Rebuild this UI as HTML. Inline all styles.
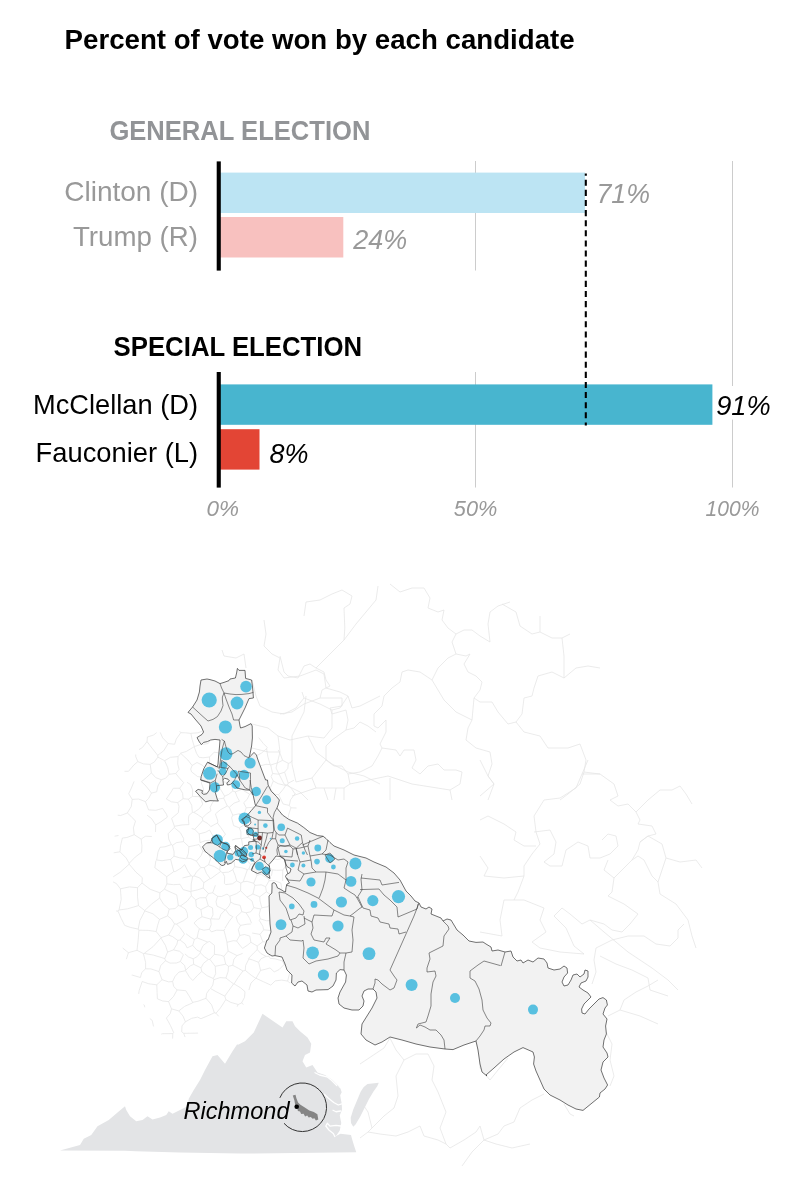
<!DOCTYPE html>
<html><head><meta charset="utf-8">
<style>
html,body{margin:0;padding:0;background:#fff;}
svg{display:block;}
text{font-family:"Liberation Sans",sans-serif;}
.b{font-weight:bold;}
.i{font-style:italic;}
</style></head>
<body>
<svg width="800" height="1200" viewBox="0 0 800 1200">
<rect width="800" height="1200" fill="#fff"/>
<!-- CHART -->
<g id="chart">
<text class="b" x="64.6" y="48.8" font-size="27.5" fill="#000" textLength="510" lengthAdjust="spacingAndGlyphs">Percent of vote won by each candidate</text>
<text class="b" x="109.4" y="139.5" font-size="27.5" fill="#929497" textLength="261" lengthAdjust="spacingAndGlyphs">GENERAL ELECTION</text>
<text class="b" x="113.6" y="355.5" font-size="27.5" fill="#000" textLength="248.5" lengthAdjust="spacingAndGlyphs">SPECIAL ELECTION</text>
<!-- gridlines -->
<rect x="475" y="161" width="1" height="109.5" fill="#ccc"/>
<rect x="475" y="372" width="1" height="115.5" fill="#ccc"/>
<rect x="732" y="161" width="1" height="326.5" fill="#ccc"/>
<rect x="714" y="386" width="57" height="33.6" fill="#fff"/>
<!-- bars -->
<rect x="219" y="172.6" width="366" height="40.4" fill="#bce4f3"/>
<rect x="219" y="217" width="124.3" height="40.5" fill="#f8c1bf"/>
<rect x="219" y="384.4" width="493.4" height="40.4" fill="#48b5cf"/>
<rect x="219" y="429.2" width="40.5" height="40.4" fill="#e34535"/>
<!-- axis -->
<rect x="216.7" y="161.4" width="4.1" height="109.2" fill="#000"/>
<rect x="216.7" y="372" width="4.1" height="115.6" fill="#000"/>
<!-- dashed -->
<line x1="585.8" y1="173.4" x2="585.8" y2="425.4" stroke="#000" stroke-width="2.1" stroke-dasharray="6.07,4.04" stroke-dashoffset="3.77"/>
<!-- labels -->
<text x="64.2" y="200.7" font-size="27.5" fill="#999" textLength="134" lengthAdjust="spacingAndGlyphs">Clinton (D)</text>
<text x="73" y="246" font-size="27.5" fill="#999" textLength="125" lengthAdjust="spacingAndGlyphs">Trump (R)</text>
<text x="33" y="413.8" font-size="27.5" fill="#000" textLength="165" lengthAdjust="spacingAndGlyphs">McClellan (D)</text>
<text x="35.6" y="461.5" font-size="27.5" fill="#000" textLength="162.5" lengthAdjust="spacingAndGlyphs">Fauconier (L)</text>
<text class="i" x="596.4" y="203" font-size="28.5" fill="#999" textLength="53.6" lengthAdjust="spacingAndGlyphs">71%</text>
<text class="i" x="353.2" y="249" font-size="28.5" fill="#999" textLength="54" lengthAdjust="spacingAndGlyphs">24%</text>
<text class="i" x="716.2" y="415.3" font-size="28.5" fill="#000" textLength="54.5" lengthAdjust="spacingAndGlyphs">91%</text>
<text class="i" x="269.6" y="462.8" font-size="28.5" fill="#000" textLength="39" lengthAdjust="spacingAndGlyphs">8%</text>
<text class="i" x="206.6" y="516.2" font-size="22" fill="#999" textLength="32.5" lengthAdjust="spacingAndGlyphs">0%</text>
<text class="i" x="453.8" y="516.2" font-size="22" fill="#999" textLength="43.5" lengthAdjust="spacingAndGlyphs">50%</text>
<text class="i" x="705.5" y="516.2" font-size="22" fill="#999" textLength="54" lengthAdjust="spacingAndGlyphs">100%</text>
</g>
<!-- MAP -->
<g id="map">
<path d="M304,616 L306,602 L320,600 L332,594 L342,590 L352,596 L350,604 L344,608 L344.8,628 L344,640 M378,586 L376,600 L366,612 L356,624 L344,640 L332,652 L316,668 M390,584 L400,592 L412,588 L424,588 L430,598 L428,608 L438,612 L444,610 L442,620 L448,628 L456,634 L452,642 L456,654 L466,656 L470,654 L464,664 L468,672 L476,676 L482,682 L480,690 L474,698 M456,634 L464,630 L472,630 L480,636 L490,642 L488,624 L490,612 L498,606 L510,602 M502,604 L516,612 L520,626 L532,634 L540,632 L552,638 L562,638 L570,634 M540,616 L540,632 M562,638 L564,656 L564,678 L576,668 L588,666 L600,668 M564,678 L552,672 L538,676 L534,688 L532,696 L524,698 L522,714 L516,722 L508,724 L498,712 L492,702 L480,702 L474,698 M474,698 L472,720 L456,712 L444,700 L432,680 L420,672 L408,670 L402,672 L400,682 L392,688 L384,696 L382,706 L374,714 L374,726 L378,728 L386,720 L386,732 L380,744 L382,748 L396,750 L400,756 L404,750 L414,750 L416,760 L412,768 L420,774 L428,766 L438,764 L444,770 L456,770 L462,772 L460,784 L450,790 L452,800 M432,680 L438,668 L448,658 L456,654 M472,720 L468,728 L466,740 L476,748 L490,752 L492,764 L488,776 L494,784 L488,800 M516,722 L524,732 L540,736 L548,748 L568,748 L580,744 L586,760 L584,772 L580,784 L568,794 L560,800 M584,772 L600,774 M280,656 L284,672 L288,676 L298,678 L304,666 L310,664 L316,668 L324,672 L326,680 L330,686 L322,690 L320,698 L332,698 L342,698 L342,706 L330,708 L332,714 L346,710 L348,720 L346,730 L354,728 L360,722 L368,726 L376,732 M346,730 L332,740 L326,746 L326,760 L334,766 L342,766 L348,774 L360,772 L372,766 L378,756 L382,748 M306,696 L304,712 L298,724 L292,736 L292,764 L296,782 L312,778 L326,760 M348,774 L350,784 L388,776 L412,784 L450,790 M280,714 L292,712 L304,704 L320,698 M390,778 L390,800 M312,778 L316,788 L344,788 L350,784 M292,796 L304,792 L316,788 M324,788 L328,800 M336,788 L334,800 M344,788 L344,800" fill="none" stroke="#e4e4e4" stroke-width="0.75" stroke-linejoin="round"/>
<path d="M588,760 L582,774 L600,774 L614,784 L618,796 L610,800 L618,806 L628,804 L636,812 L640,820 L638,824 L652,826 L656,834 L648,836 L640,842 L638,850 L632,860 M582,774 L576,788 L560,798 L544,800 L534,816 L536,832 L540,844 L532,854 L524,866 L524,876 L518,892 L514,900 M534,832 L550,830 L556,842 L554,854 L544,862 L550,866 L562,866 L566,850 L578,842 L588,846 L590,858 L600,858 L610,854 L618,846 L616,836 L608,834 L602,840 M636,812 L648,800 L660,790 L672,790 L680,786 L686,794 L692,804 M640,842 L648,836 L662,844 L666,858 L662,870 L658,882 L652,876 L644,860 L638,856 L632,860 L624,868 L614,878 L604,870 L608,860 M666,858 L680,862 L696,860 L702,868 M614,878 L612,892 L608,896 L624,904 L638,914 L630,924 L622,932 L612,930 L604,924 L590,920 L582,924 L570,914 L562,908 L554,916 L566,928 L574,946 L584,954 M658,882 L660,894 L676,904 L688,920 L692,936 L696,948 M590,920 L604,932 L616,942 L628,952 L640,960 L652,968 L668,980 L678,990 M596,948 L612,940 L628,936 L644,936 L656,944 L670,946 L678,938 L678,930 L684,924 M480,820 L488,816 L504,824 L516,832 L514,840 L524,846 L536,846 M480,856 L488,868 L484,876 L504,878 L524,876 M504,900 L524,900 L544,908 L540,920 L546,932 L532,942 L540,948 L560,952 L584,954 M504,900 L500,920 L502,936 L480,932 M480,760 L488,776 L494,784 L480,796 M596,948 L594,960 L596,972 L592,984 M600,956 L616,964 L632,970 L648,978 L650,990 L668,996 M390,1038 L396,1050 L404,1060 L416,1054 L428,1054 L434,1066 L432,1080 L438,1092 L446,1112 L440,1128 L446,1144 L450,1148 L464,1140 L476,1132 L480,1126 L484,1140 L498,1134 L504,1126 L514,1122 L520,1108 L532,1100 L544,1094 M404,1060 L396,1076 L398,1096 L394,1108 L384,1116 L372,1128 L368,1132 L380,1134 L396,1136 L408,1132 L420,1126 L424,1136 L438,1140 L446,1144 M484,1140 L472,1152 L462,1166 M484,1140 L496,1144 L512,1148 L530,1144 M476,1042 L480,1056 L480,1068 L490,1080 L498,1070 L508,1058 M608,1016 L620,1010 L624,1000 L636,992 L648,986 L658,980 M620,1010 L640,1016 L658,1024 M606,1032 L612,1044 L610,1060 L614,1076 L610,1086 M564,1104 L570,1114 L574,1116 M360,1064 L372,1056 L384,1048 L390,1038 M360,1100 L368,1112 L372,1128 M360,1138 L368,1132 M222,650 L224,656 L236,658 L244,654 L246,668 M264,620 L266,634 L264,646 L272,654 L280,658 L278,670 L284,678 L300,676 L316,670 L324,674 L326,688 L340,692 L348,696 L352,708 L360,706 L376,698 L380,696 M252,680 L256,696 L260,706 L272,712 L284,714 L296,708 L304,698 L302,692 M304,698 L320,704 L332,710 L340,708 L348,696 M252,724 L268,728 L278,736 L290,740 L308,736 L324,738 L332,728 L332,710 M308,736 L316,752 L332,764 L348,772 L364,776 L380,784 M278,736 L280,752 L276,768 L284,784 L300,792 L308,800 M252,748 L268,752 L280,752" fill="none" stroke="#e4e4e4" stroke-width="0.75" stroke-linejoin="round"/>
<path d="M124.5,771.3 L128.5,771.3 M128.7,793.7 L131.4,788.0 L134.1,781.4 M150.2,764.4 L143.5,763.9 L137.8,761.6 M150.2,764.4 L154.3,762.0 L157.9,757.1 M157.9,757.1 L157.7,755.3 M157.7,755.3 L152.4,748.6 L147.0,741.6 M147.0,741.6 L142.4,747.5 L139.0,749.6 M135.7,754.5 L135.7,756.5 L137.8,761.6 M128.5,771.3 L133.7,765.2 L137.8,761.6 M141.5,781.7 L146.9,777.1 L151.4,772.9 M151.4,772.9 L150.2,764.4 M116.1,911.0 L118.0,911.1 M120.4,888.8 L116.5,883.7 L113.1,881.9 M120.4,888.8 L121.2,899.4 L119.0,910.0 M118.0,911.1 L119.0,910.0 M203.3,792.9 L207.0,793.0 M203.3,792.9 L202.9,793.4 M200.0,796.7 L199.9,796.7 M213.9,801.1 L212.4,802.8 L210.1,807.6 M199.9,796.7 L202.8,804.1 M210.1,807.6 L211.0,810.7 M211.0,810.7 L206.4,814.1 L202.4,817.9 M202.4,817.9 L196.8,814.0 L193.8,812.4 M202.8,804.1 L199.2,808.8 L193.8,812.4 M199.9,796.7 L192.5,796.4 M193.8,812.4 L192.4,812.4 M192.4,812.4 L191.7,805.2 L188.4,799.2 M192.5,796.4 L188.4,799.2 M217.5,799.1 L223.7,798.2 M215.4,813.9 L220.3,809.8 L227.3,806.0 M223.7,798.2 L227.3,806.0 M128.7,793.7 L132.2,799.4 M132.2,799.4 L131.3,806.4 L127.3,813.0 M127.3,813.0 L120.7,815.5 L117.7,815.2 M164.7,760.7 L170.4,757.3 L178.1,756.6 M164.7,760.7 L167.8,767.8 L169.1,774.3 M178.1,756.6 L177.7,763.9 L179.1,769.4 M179.1,769.4 L175.8,773.5 M169.1,774.3 L175.8,773.5 M168.1,743.5 L163.8,750.7 L157.7,755.3 M168.1,743.5 L174.6,744.3 M157.9,757.1 L164.7,760.7 M180.7,753.4 L180.7,753.1 M180.7,753.4 L178.1,756.6 M151.4,772.9 L155.8,777.7 L161.4,779.7 M165.6,778.3 L161.4,779.7 M165.6,778.3 L169.1,774.3 M190.7,769.1 L192.1,765.5 M192.1,765.5 L187.9,760.0 L180.7,753.4 M222.6,872.6 L228.6,872.1 L232.8,869.7 M222.6,872.6 L224.7,876.6 L224.4,883.5 M232.8,869.7 L235.1,875.3 L236.7,880.9 M236.7,880.9 L232.4,883.8 L225.8,884.6 M224.4,883.5 L225.8,884.6 M118.0,911.1 L121.1,918.3 L124.7,925.4 M126.4,959.1 L128.4,952.7 M122.7,948.0 L128.4,952.7 M250.6,864.4 L247.1,860.4 M250.6,864.4 L248.9,868.9 M248.9,868.9 L247.4,869.6 M234.1,861.1 L234.7,866.7 M247.4,869.6 L242.3,867.9 L234.7,866.7 M233.5,853.3 L230.5,848.7 M230.5,848.7 L230.3,848.8 M210.7,858.4 L208.9,854.8 M182.5,878.0 L191.1,875.8 M191.1,875.8 L187.7,870.8 L184.6,864.6 M184.6,864.6 L181.4,867.9 L175.2,871.6 M155.5,832.0 L155.7,824.9 M171.6,818.4 L174.4,826.3 M168.2,833.7 L174.2,827.6 M167.4,817.1 L160.8,821.9 L155.7,824.9 M174.4,826.3 L174.2,827.6 M178.3,812.8 L171.6,818.4 M188.9,815.4 L188.4,818.9 L188.9,824.6 M174.4,826.3 L182.2,824.9 L188.9,824.6 M120.0,851.8 L120.5,845.9 L122.4,838.0 M120.0,851.8 L126.1,857.9 L129.2,863.3 M129.2,863.3 L135.2,857.1 L141.7,852.2 M141.7,852.2 L141.9,845.7 L141.2,839.1 M122.4,838.0 L126.9,837.5 L134.2,834.7 M134.2,834.7 L141.2,839.1 M113.7,852.8 L120.0,851.8 M113.2,876.8 L120.1,872.3 L129.2,864.2 M129.2,864.2 L129.2,863.3 M142.3,877.7 L136.0,872.2 L129.2,864.2 M154.8,867.7 L155.9,860.7 M147.1,815.2 L151.5,818.5 L155.7,824.9 M135.5,821.1 L133.4,827.8 L134.2,834.7 M151.8,836.5 L145.5,836.2 L141.2,839.1 M191.6,771.9 L197.5,776.5 L200.8,777.1 M202.4,780.9 L201.3,782.8 M190.7,784.7 L187.0,782.3 M190.7,769.1 L191.6,771.9 M183.7,782.7 L178.7,777.2 L175.8,773.5 M203.3,792.9 L203.5,788.9 L201.3,782.8 M192.5,796.4 L192.6,789.9 L190.7,784.7 M227.0,782.4 L223.4,781.8 M231.5,783.9 L232.8,791.0 M224.6,796.1 L228.5,794.5 L232.8,791.0 M224.6,796.1 L220.1,788.6 L218.7,785.8 M223.7,798.2 L224.6,796.1 M180.8,732.7 L185.4,732.8 L190.9,733.4 M180.8,732.7 L179.6,731.2 M190.9,733.4 L191.0,733.3 M191.0,733.3 L198.0,732.8 L202.9,731.0 M249.6,794.1 L245.4,791.7 L242.1,789.5 M249.6,794.1 L247.3,799.2 L243.7,802.7 M239.5,801.2 L237.0,796.7 L235.3,791.9 M235.3,791.9 L241.7,789.4 M250.5,793.9 L249.6,794.1 M250.5,793.9 L251.3,792.8 M227.3,806.0 L229.3,807.3 M232.8,791.0 L235.3,791.9 M229.3,807.3 L234.1,803.1 L239.5,801.2 M232.8,815.2 L239.0,813.8 L244.2,813.9 M232.8,815.2 L229.3,807.3 M243.7,802.7 L246.2,807.8 M244.2,813.9 L246.2,807.8 M295.0,793.8 L291.6,788.8 L287.5,784.7 M295.0,793.8 L295.4,793.6 M288.2,783.2 L294.0,780.2 M288.2,783.2 L287.5,784.7 M296.6,808.1 L296.2,808.0 L290.9,807.8 M295.0,793.8 L290.6,799.7 L289.3,805.4 M290.9,807.8 L289.3,805.4 M290.5,762.7 L288.3,763.3 M288.2,783.2 L286.2,777.1 L284.6,772.2 M284.6,772.2 L287.8,768.4 L288.3,763.3 M290.5,762.7 L292.0,760.5 M145.4,801.6 L148.6,809.9 M145.4,801.6 L148.6,798.5 L151.5,793.1 M148.6,809.9 L155.8,810.3 L162.6,808.4 M151.5,793.1 L156.7,791.8 M132.2,799.4 L138.5,799.0 L145.4,801.6 M135.5,821.1 L130.9,816.2 L127.3,813.0 M141.5,781.7 L146.0,786.1 L151.5,793.1 M167.4,817.1 L166.5,814.3 L162.6,808.4 M161.4,779.7 L157.9,786.0 L156.7,791.8 M118.5,835.5 L114.6,836.2 M166.3,799.0 L170.9,792.3 L173.3,788.3 M166.3,799.0 L171.4,801.8 L177.7,802.6 M177.7,802.6 L183.1,798.7 M183.1,798.7 L182.6,793.2 L179.7,788.2 M179.7,788.2 L173.3,788.3 M178.3,812.8 L179.0,806.3 L177.7,802.6 M188.9,815.4 L192.4,812.4 M188.4,799.2 L183.1,798.7 M183.7,782.7 L179.7,788.2 M156.7,732.6 L153.6,735.0 L147.4,737.0 M147.4,737.0 L147.4,736.9 M168.1,743.5 L162.7,737.9 L160.2,732.4 M147.0,741.6 L147.4,737.0 M180.8,732.7 L176.3,739.0 L174.6,744.3 M268.1,906.7 L269.0,905.2 M268.1,906.7 L261.8,907.8 M270.1,894.4 L266.4,891.8 M266.4,891.8 L259.7,896.8 M261.8,907.8 L260.0,900.9 L259.7,896.8 M240.6,890.8 L247.0,897.1 M240.6,890.8 L240.8,883.1 M247.0,897.1 L252.9,894.0 M252.9,894.0 L254.9,885.4 M253.7,883.3 L247.1,881.3 L243.2,881.8 M253.7,883.3 L254.9,885.4 M240.8,883.1 L243.2,881.8 M266.4,891.8 L265.6,886.7 M265.6,886.7 L261.3,884.8 L254.9,885.4 M259.7,896.8 L252.9,894.0 M256.9,875.3 L255.4,872.8 M251.4,869.9 L248.9,868.9 M256.9,875.3 L253.7,883.3 M247.4,869.6 L245.2,876.0 L243.2,881.8 M260.9,874.3 L256.9,875.3 M260.9,874.3 L268.2,878.6 M268.2,878.6 L269.1,880.8 M269.1,880.8 L265.6,886.7 M234.7,866.7 L232.8,869.7 M236.7,880.9 L240.8,883.1 M203.8,882.7 L203.2,888.0 M203.8,882.7 L199.9,878.0 L194.1,875.9 M203.2,888.0 L197.5,889.9 L191.1,891.3 M191.1,891.3 L191.2,884.1 L192.7,876.4 M192.7,876.4 L194.1,875.9 M225.6,834.2 L225.4,834.2 M225.4,834.2 L221.1,827.9 L217.4,823.0 M233.6,825.6 L231.6,817.8 M217.9,821.2 L217.4,823.0 M219.6,839.9 L221.5,839.2 L225.4,834.2 M213.2,837.3 L212.4,834.9 L209.5,830.0 M210.8,826.6 L217.4,823.0 M215.4,813.9 L217.9,821.2 M232.8,815.2 L231.6,817.8 M202.4,817.9 L202.7,820.6 M202.7,820.6 L207.9,823.6 L210.8,826.6 M204.2,867.6 L208.6,864.7 M204.2,867.6 L206.4,873.4 L210.2,878.5 M208.6,864.7 L214.2,866.5 L219.7,869.9 M210.9,878.6 L210.2,878.5 M210.9,878.6 L217.2,874.0 L220.6,871.6 M220.6,871.6 L219.7,869.9 M200.8,867.6 L204.2,867.6 M200.8,867.6 L196.4,872.1 L194.1,875.9 M203.8,882.7 L210.2,878.5 M220.5,864.8 L220.2,866.1 L219.7,869.9 M210.7,858.4 L208.6,864.7 M222.6,872.6 L220.6,871.6 M218.6,752.8 L214.2,752.2 M210.4,740.4 L208.1,743.6 M190.9,733.4 L192.1,739.4 L194.3,746.6 M208.1,743.6 L202.0,744.4 M201.0,744.5 L200.4,744.6 L194.3,746.6 M180.7,753.1 L186.2,751.5 L194.2,746.7 M194.2,746.7 L194.3,746.6 M250.5,793.9 L252.6,794.7 M246.2,807.8 L251.8,807.4 L254.1,806.9 M244.2,813.9 L245.8,816.3 M250.1,754.6 L251.3,754.8 M282.6,760.3 L277.6,762.8 L270.7,765.0 M282.6,760.3 L280.1,753.6 L278.2,749.9 M270.2,764.6 L270.7,765.0 M270.2,764.6 L267.7,756.0 L266.6,748.7 M267.2,747.4 L266.6,748.7 M284.6,772.2 L278.6,774.2 L272.6,773.5 M288.3,763.3 L282.6,760.3 M272.6,773.5 L270.7,765.0 M260.5,765.8 L266.0,764.3 L270.2,764.6 M271.1,776.6 L272.6,773.5 M256.9,755.5 L261.2,753.3 L266.6,748.7 M258.7,737.6 L263.3,743.5 L267.2,747.4 M166.7,876.7 L173.8,871.6 M166.7,876.7 L166.9,883.9 M173.8,871.6 L175.2,871.6 M166.9,883.9 L173.4,884.7 L180.0,884.3 M120.4,888.8 L129.4,886.9 L137.5,887.7 M119.0,910.0 L127.6,908.8 L138.5,905.6 M138.5,905.6 L137.5,896.8 L137.5,887.7 M142.3,877.7 L142.0,883.0 M137.5,887.7 L142.0,883.0 M124.7,925.4 L130.3,927.4 L138.2,929.1 M128.4,952.7 L137.0,950.3 M137.0,950.3 L138.2,939.8 L138.9,930.2 M138.2,929.1 L138.9,930.2 M200.8,867.6 L196.4,861.1 M205.6,852.1 L202.9,851.1 M196.4,861.1 L201.0,855.8 L202.9,851.1 M191.1,875.8 L192.7,876.4 M185.7,858.8 L186.7,858.2 M196.4,861.1 L190.9,858.6 L186.7,858.2 M171.3,844.6 L172.5,845.3 M171.3,844.6 L165.0,846.8 L160.0,847.3 M172.5,845.3 L174.1,851.9 L174.0,856.2 M160.0,847.3 L158.0,852.1 L156.7,860.0 M156.7,860.0 L162.1,860.7 L170.6,859.4 M170.6,859.4 L174.0,856.2 M168.2,833.7 L168.7,839.0 L171.3,844.6 M155.9,860.7 L156.7,860.0 M166.7,876.7 L162.3,873.3 L154.8,867.7 M173.8,871.6 L172.3,866.0 L170.6,859.4 M185.7,858.8 L179.6,857.8 L174.0,856.2 M209.5,757.0 L202.9,757.8 L198.9,757.2 M209.5,757.0 L209.7,762.9 M204.3,767.3 L202.4,765.2 L197.0,762.5 M214.2,752.2 L209.5,757.0 M194.2,746.7 L196.5,753.3 L198.9,757.2 M192.1,765.5 L197.0,762.5 M231.9,840.1 L235.2,839.0 L240.9,838.4 M233.6,825.6 L239.3,827.9 M240.9,838.4 L240.9,831.9 L239.3,827.9 M239.3,827.9 L244.0,825.0 L244.3,824.9 M240.9,838.4 L241.5,838.7 M242.9,847.6 L242.6,845.6 L241.5,838.7 M283.1,804.0 L289.3,805.4 M290.9,807.8 L288.7,814.5 L287.9,818.4 M278.7,794.7 L283.4,789.0 L285.7,785.5 M278.7,794.7 L274.8,794.2 M274.8,794.2 L270.2,788.4 M285.7,785.5 L278.2,783.7 L273.3,781.0 M273.3,781.0 L270.2,788.4 M287.5,784.7 L285.7,785.5 M283.1,804.0 L281.5,800.7 L278.7,794.7 M274.7,794.3 L274.8,794.2 M270.2,788.4 L270.2,788.4 M271.1,776.6 L273.3,781.0 M281.9,889.8 L282.0,889.3 L280.8,883.0 M282.8,870.1 L282.6,876.6 L282.7,881.0 M282.8,870.1 L286.2,865.3 M269.1,880.8 L274.3,880.7 L280.8,883.0 M272.5,869.9 L271.5,875.4 L269.9,876.9 M268.8,878.0 L268.2,878.6 M272.5,869.9 L276.3,870.3 L282.8,870.1 M289.4,972.8 L289.4,974.2 L287.6,981.1 M290.2,983.2 L287.6,981.1 M282.8,959.5 L282.4,960.9 M282.4,960.9 L275.0,958.8 L270.3,958.4 M269.6,954.9 L268.9,956.3 M270.3,958.4 L268.9,956.3 M285.0,965.0 L284.1,964.5 M284.1,964.5 L282.4,960.9 M166.9,883.9 L164.4,889.2 M142.0,883.0 L150.2,889.3 L159.9,892.8 M164.4,889.2 L159.9,892.8 M200.0,842.6 L199.2,833.9 M199.0,844.5 L195.2,845.4 L188.9,846.7 M199.2,833.9 L194.7,829.3 M188.9,846.7 L183.5,841.6 M194.7,829.3 L191.7,828.6 M183.7,838.6 L183.5,841.6 M211.3,840.2 L205.6,840.6 L200.0,842.6 M209.5,830.0 L205.8,832.2 L199.2,833.9 M202.9,851.1 L199.0,844.5 M186.7,858.2 L188.4,853.3 L188.9,846.7 M202.7,820.6 L198.0,825.9 L194.7,829.3 M172.5,845.3 L176.6,842.6 L183.5,841.6 M174.2,827.6 L180.4,832.7 L183.7,838.6 M248.7,834.1 L248.6,837.2 M253.7,840.4 L248.6,837.2 M241.5,838.7 L248.6,837.2 M250.6,864.4 L254.4,862.9 M282.9,858.3 L277.7,859.5 L274.1,859.0 M260.9,874.3 L261.0,872.5 M272.5,869.9 L269.9,867.9 M137.0,950.3 L143.4,953.6 M143.4,953.6 L145.6,962.4 L145.6,968.8 M145.6,968.8 L141.8,972.4 L140.4,977.5 M140.4,977.5 L132.6,975.2 L131.7,975.1 M284.1,964.5 L279.1,969.6 L274.2,971.9 M287.6,981.1 L281.6,980.1 L275.2,980.9 M274.2,971.9 L270.0,967.9 M268.9,956.3 L266.1,956.4 M270.0,967.9 L265.4,969.3 L260.6,970.4 M260.6,970.4 L258.6,962.3 M266.1,956.4 L261.0,958.7 L258.6,962.3 M262.8,941.7 L266.0,942.0 M262.8,941.7 L257.2,946.0 M257.2,946.0 L257.3,949.6 M266.1,956.4 L260.8,953.5 L257.3,949.6 M215.4,885.3 L212.7,892.8 M203.2,888.0 L208.4,893.5 M212.7,892.8 L208.4,893.5 M262.8,941.7 L260.0,934.4 M257.2,946.0 L250.9,942.3 M260.0,934.4 L252.1,933.0 M250.9,942.3 L249.8,936.1 M247.0,897.2 L252.0,901.0 L253.8,907.6 M240.2,905.4 L241.8,911.7 M241.8,911.7 L246.1,912.8 M246.1,912.8 L250.7,911.8 L253.8,907.6 M250.9,924.0 L247.0,924.2 L240.5,925.4 M240.5,925.4 L237.6,922.0 L236.1,917.0 M241.8,911.7 L236.1,917.0 M246.1,912.8 L249.7,918.5 L251.5,923.2 M261.8,907.8 L260.6,909.0 M247.0,897.1 L247.0,897.2 M260.6,909.0 L253.8,907.6 M153.5,1026.4 L152.2,1020.4 M149.8,1018.5 L152.2,1020.4 M176.7,894.8 L177.6,900.0 L178.3,905.5 M183.1,889.6 L190.8,891.7 M180.4,906.0 L187.0,901.3 L191.4,895.8 M180.4,906.0 L178.3,905.5 M190.8,891.7 L191.4,895.8 M180.0,884.3 L183.1,889.6 M164.4,889.2 L170.0,891.9 L176.7,894.8 M191.1,891.3 L190.8,891.7 M195.7,899.9 L191.4,895.8 M195.7,899.9 L196.4,906.8 M187.3,913.3 L185.4,909.0 L180.4,906.0 M195.7,899.9 L199.8,897.8 L205.9,897.7 M208.4,893.5 L205.9,897.7 M159.7,898.0 L163.5,904.2 L169.2,909.1 M159.7,898.0 L151.8,903.9 L144.7,910.5 M144.7,910.5 L144.8,910.9 M144.8,910.9 L152.9,913.8 L159.5,919.4 M159.5,919.4 L167.5,915.9 M169.2,909.1 L167.5,915.9 M159.9,892.8 L159.7,898.0 M178.3,905.5 L175.1,908.6 L169.2,909.1 M138.5,905.6 L144.7,910.5 M138.2,929.1 L139.9,920.5 L144.8,910.9 M138.9,930.2 L148.2,930.4 L156.2,931.5 M156.2,931.5 L157.7,925.2 L159.5,919.4 M161.3,1034.1 L162.5,1033.7 L172.8,1033.6 M172.6,1038.6 L172.8,1033.6 M166.4,1018.1 L170.5,1025.6 L173.7,1032.7 M173.7,1032.7 L172.8,1033.6 M243.5,1004.4 L241.5,1003.0 M237.1,1006.7 L238.2,1004.5 M238.2,1004.5 L241.5,1003.0 M270.8,985.1 L263.6,981.8 L256.0,978.3 M248.9,990.1 L250.9,983.2 L255.8,978.3 M256.0,978.3 L255.8,978.3 M275.2,980.9 L270.8,985.1 M260.6,970.4 L257.5,975.7 L256.0,978.3 M241.5,1003.0 L244.5,997.4 L245.0,991.7 M233.6,983.9 L234.1,983.9 M233.6,983.9 L228.3,991.2 L224.8,996.1 M238.2,1004.5 L230.8,1002.4 L225.8,999.6 M245.0,991.7 L240.7,987.9 L234.1,983.9 M224.8,996.1 L225.8,999.6 M218.7,1016.3 L216.0,1013.2 M225.8,999.6 L220.5,1007.9 L216.0,1013.2 M263.7,929.8 L262.8,926.1 L259.2,920.3 M263.7,929.8 L270.5,930.5 M269.6,920.7 L266.3,920.7 L260.3,918.8 M260.3,918.8 L259.2,920.3 M260.0,934.4 L263.7,929.8 M269.1,936.2 L269.1,935.6 L270.0,933.8 M260.6,909.0 L259.2,914.4 L260.3,918.8 M249.8,936.1 L244.4,934.5 L239.8,935.4 M240.5,925.4 L238.3,929.6 M239.8,935.4 L238.3,929.6 M232.8,916.7 L229.3,921.1 L225.0,928.0 M217.0,906.1 L216.0,901.7 L217.6,896.3 M217.0,906.1 L225.1,909.9 M225.1,909.9 L225.7,909.8 M225.7,909.8 L229.1,905.8 L230.7,902.1 M217.6,896.3 L221.5,896.5 L227.0,894.1 M230.7,902.1 L229.8,896.2 M229.8,896.2 L227.0,894.1 M232.8,916.7 L229.2,914.7 L225.7,909.8 M219.2,919.2 L220.8,914.5 L225.1,909.9 M240.2,905.4 L234.1,904.0 L230.7,902.1 M212.7,892.8 L217.6,896.3 M240.6,890.8 L236.4,893.7 L229.8,896.2 M170.0,963.1 L176.4,963.0 L180.3,961.5 M180.3,961.5 L184.6,965.4 L185.7,970.2 M175.1,976.3 L178.9,972.1 L185.6,970.7 M185.6,970.7 L185.7,970.2 M172.6,981.5 L175.1,976.3 M172.6,981.5 L168.7,981.9 L162.0,979.7 M162.0,979.7 L159.0,971.6 M159.0,971.6 L160.7,965.6 L165.5,960.7 M165.5,960.7 L170.0,963.1 M192.8,980.5 L197.7,975.2 L201.8,971.5 M192.8,980.5 L189.4,977.0 L185.6,970.7 M201.8,971.5 L201.0,967.9 M185.7,970.2 L190.2,965.9 L193.7,964.3 M201.0,967.9 L193.7,964.3 M183.4,954.7 L180.3,961.5 M193.7,964.3 L193.2,958.8 M184.9,953.9 L188.4,956.9 L193.2,958.8 M138.7,993.9 L139.2,990.4 L142.2,981.5 M143.5,1004.6 L144.3,1005.1 M157.4,998.8 L157.1,992.7 L156.8,984.8 M156.8,984.8 L148.8,983.8 L142.2,981.5 M144.8,1007.3 L144.3,1005.1 M145.6,968.8 L150.9,968.9 L159.0,971.6 M162.0,979.7 L156.8,984.8 M185.1,1037.1 L183.7,1033.3 M198.1,1033.1 L194.0,1033.2 L183.7,1033.3 M181.7,1031.8 L183.7,1033.3 M168.5,935.1 L172.4,936.5 L177.8,940.4 M168.5,935.1 L172.0,929.3 L174.5,923.9 M174.5,923.9 L176.5,924.1 M176.5,924.1 L180.1,927.7 L184.5,934.0 M184.5,934.0 L180.1,940.0 M177.8,940.4 L180.1,940.0 M156.2,931.5 L161.0,937.6 M167.5,915.9 L171.3,918.9 L174.5,923.9 M161.0,937.6 L168.5,935.1 M187.3,913.3 L187.7,917.5 M187.7,917.5 L183.5,920.7 L176.5,924.1 M183.4,954.7 L179.7,951.3 L173.5,949.9 M173.5,949.9 L176.8,944.3 L177.8,940.4 M187.1,947.9 L185.1,943.9 L180.1,940.0 M144.2,953.4 L153.1,946.6 L160.9,938.0 M144.2,953.4 L153.4,955.1 L164.8,958.6 M160.9,938.0 L165.5,945.5 L167.6,952.0 M164.8,958.6 L167.6,952.0 M143.4,953.6 L144.2,953.4 M161.0,937.6 L160.9,938.0 M165.5,960.7 L164.8,958.6 M173.5,949.9 L167.6,952.0 M210.5,988.5 L216.1,991.7 L224.8,996.1 M216.0,1013.2 L214.4,1012.8 M209.6,989.1 L206.6,993.5 L206.0,998.3 M214.4,1012.8 L211.6,1004.8 L206.0,998.3 M214.4,1012.8 L208.1,1015.7 L200.9,1018.7 M185.4,1021.8 L191.7,1018.3 L197.6,1017.1 M185.4,1021.8 L182.0,1025.9 L181.7,1031.8 M197.6,1017.1 L200.9,1018.7 M177.1,989.9 L185.8,990.7 M177.1,989.9 L173.5,996.5 L168.6,1001.6 M185.8,990.7 L190.2,997.7 L192.6,1002.4 M168.6,1001.6 L171.5,1008.9 M192.4,1003.0 L192.6,1002.4 M192.4,1003.0 L184.7,1006.3 L178.8,1010.9 M178.8,1010.9 L171.5,1008.9 M172.6,981.5 L173.7,986.5 L177.1,989.9 M157.4,998.8 L162.7,1001.0 L168.6,1001.6 M206.0,998.3 L197.8,1001.3 L192.6,1002.4 M166.4,1018.1 L170.3,1013.5 L171.5,1008.9 M185.4,1021.8 L183.1,1016.2 L178.8,1010.9 M250.9,942.3 L247.5,945.1 L242.6,948.4 M239.8,935.4 L236.6,941.0 M242.6,948.4 L240.4,945.9 L236.6,941.0 M233.6,983.9 L230.5,981.6 L225.9,978.0 M210.5,988.5 L212.8,985.1 L213.8,979.7 M225.9,978.0 L220.0,977.6 L213.8,979.7 M201.8,971.5 L207.1,975.7 L213.3,978.5 M213.8,979.7 L213.3,978.5 M225.0,928.7 L224.0,930.4 M236.6,941.0 L233.3,940.7 L227.0,942.3 M224.0,930.4 L225.3,935.3 L227.0,942.3 M187.1,947.9 L192.7,945.3 M192.7,945.3 L194.4,939.4 M186.0,933.7 L190.8,937.4 L194.4,939.4 M194.1,923.0 L194.1,923.1 M211.0,918.8 L210.6,919.1 M211.0,918.8 L213.0,914.9 L212.5,907.9 M210.6,919.1 L202.0,916.7 M208.3,905.9 L212.5,907.9 M208.3,905.9 L200.9,909.6 M200.9,909.6 L202.0,916.7 M219.2,919.2 L211.0,918.8 M205.9,897.7 L208.3,905.9 M196.4,906.8 L200.9,909.6 M194.1,923.0 L197.7,919.4 L202.0,916.7 M242.6,953.4 L237.0,955.6 M237.0,955.6 L233.9,959.2 L232.7,965.3 M248.9,958.9 L248.7,958.2 M248.9,958.9 L245.6,965.5 L245.3,970.4 M232.7,965.3 L238.4,968.3 L242.9,971.0 M245.3,970.4 L242.9,971.0 M257.3,949.6 L254.2,952.5 L248.7,958.2 M258.6,962.3 L252.4,959.9 L248.9,958.9 M255.8,978.3 L251.3,975.3 L245.3,970.4 M234.1,983.9 L237.9,977.8 L242.9,971.0 M228.5,966.3 L228.1,971.6 L225.9,978.0 M228.5,966.3 L232.7,965.3 M194.1,923.1 L199.3,928.8 M210.6,919.1 L211.2,924.8 L209.4,929.3 M209.4,929.3 L203.9,930.2 L199.3,928.8 M224.0,930.4 L216.5,930.2 L211.4,931.9 M209.4,929.3 L211.4,931.9 M194.4,939.4 L197.1,937.9 M197.1,937.9 L198.3,932.2 L199.3,928.8 M227.0,942.3 L226.9,942.4 M237.0,955.6 L233.3,953.7 L228.1,951.1 M228.1,951.1 L226.9,942.4 M228.5,966.3 L225.7,964.2 M213.3,978.5 L215.7,973.7 L215.2,966.3 M225.7,964.2 L220.8,965.2 L215.2,966.3 M228.1,951.1 L223.9,956.4 M225.7,964.2 L223.9,956.4 M214.5,945.4 L214.4,954.3 M214.5,945.4 L209.6,941.5 M207.6,942.1 L209.6,941.5 M207.6,942.1 L203.0,945.7 L200.3,951.7 M200.3,951.7 L200.4,952.8 M200.4,952.8 L204.3,956.6 L208.4,959.4 M214.4,954.3 L209.9,959.3 M208.4,959.4 L209.9,959.3 M223.9,956.4 L220.6,955.2 L214.4,954.3 M197.1,937.9 L202.1,939.8 L207.6,942.1 M192.7,945.3 L196.9,950.1 L200.3,951.7 M193.2,958.8 L197.2,956.6 L200.4,952.8 M201.0,967.9 L203.5,963.3 L208.4,959.4 M215.2,966.3 L209.9,959.3" fill="none" stroke="#e3e3e3" stroke-width="0.7" stroke-linejoin="round"/>
<path d="M60,1150.5 L80,1145 L83.75,1138.75 L91.25,1135 L97.5,1126.25 L108.75,1120 L117.5,1112.5 L125,1106.25 L126.25,1110 L130,1116.25 L136.25,1121.25 L142.5,1120 L147.5,1116.25 L152.5,1119.5 L160,1117.5 L166.25,1115 L168.75,1111.25 L172.5,1113.75 L180,1110 L187.5,1106.25 L188.75,1098.75 L193.75,1090 L200,1080 L205,1070 L212.5,1056.25 L217.5,1055 L225,1063.75 L232.5,1051.25 L237.5,1043.75 L237.5,1045 L245,1041.25 L253.75,1032.5 L262.5,1013.75 L282.5,1027.5 L286.25,1021.25 L292.5,1021.25 L295,1026.25 L300,1031.25 L307.5,1037.5 L311.25,1043.75 L310,1052.5 L305,1055 L302.5,1061.25 L306.25,1067.5 L312.5,1065 L317.5,1072.5 L325,1075 L332.5,1080 L340,1087.5 L336.75,1085.5 L340.5,1088.5 L341.7,1092.25 L340.2,1095.25 L340.8,1099 L341.7,1103.5 L342,1109.5 L339.75,1115.5 L341.25,1123 L339.75,1130.5 L336.75,1135 L334.5,1136.8 L340.5,1133.8 L351,1135 L351.75,1138 L354,1145.5 L356.25,1152.25 L240,1153.6 L180,1152.5 L136,1151.2 L125,1150.8 L60,1150.5Z" fill="#e3e4e6"/>
<path d="M367.5,1084 L378.75,1082.8 L377.25,1086.25 L373.5,1091.5 L369,1099 L364.5,1108 L360,1117 L355.5,1124.5 L353.25,1126.75 L351,1123 L350.7,1117.75 L353.25,1109.5 L357,1100.5 L360.75,1091.5 L363.75,1087Z" fill="#e3e4e6"/>
<path d="M341.7,1103.8 L338.25,1105 L333.75,1102.45 L328.5,1098.25 L324.3,1094.2 M340.8,1126 L336,1125.4 L330,1126.15 L327.3,1123.3 L325.8,1126 L328.8,1129.9 L333.3,1133.5 L334.8,1136.5 M340.5,1111 L336,1111.75 L333,1110.25 M315,1072.75 L319.5,1075 L327,1076.8 L331.5,1080.25 L336.75,1085.5" fill="none" stroke="#fff" stroke-width="1.3" stroke-linejoin="round" stroke-linecap="round"/>
<path d="M201,680 L207,679 L210,679.6 L215,681 L220,683.6 L224,682.4 L229,680.6 L230,679 L235.4,678 L236.6,673 L237.4,668.4 L239,670.4 L245,670.4 L245.6,678.4 L251.6,680 L252.4,686 L253,692 L253.4,698 L249,698.6 L245,708 L242,714 L239,720 L240,726 L240.6,728 L245,726.6 L251,723.6 L252.2,726 L252.4,738 L251.6,746 L250,754 L249,757.6 L251,755.6 L254,752.4 L256.4,755 L258,760 L261,768 L264,776 L265.6,780 L267.5,780 L268.12,785 L271.25,791.25 L276.25,796.25 L279.38,800 L278.12,805 L276.88,808.12 L280,811.88 L282.5,815 L288.75,819.38 L297.5,823.12 L303.75,827.5 L310,832.5 L317.5,835.62 L323.12,836.25 L326.25,838.75 L330,842.5 L334,846 L344,850 L354,855 L366,858 L374,862 L386,867 L394,873 L400,880 L406,891 L411,896 L415,901 L419,903 L421,907 L426,909 L429,907 L432,909 L431,914 L436,916 L441,918 L443,921 L447,919 L451,920 L454,925 L457,930 L463,935 L469,941 L476,942.4 L483,942 L486,944 L491,947 L492,951 L498,950 L505,952 L511,951 L513,957 L517,961 L521,960 L523,963 L528,960 L533,962 L538,958 L544,959 L547,963 L548,968 L554,970 L560,969 L564,966 L567,968 L567.6,973 L564,977 L562,982 L564,986 L568,985 L571,980 L573,975 L577,974 L580,977 L584,974 L585,970 L588,971 L588,977 L586,981 L581,983 L579,987 L583,990 L588,993 L591,997 L588,1000 L584,1004 L581.6,1009 L582,1013 L585,1014 L589,1009 L594,1004 L599,999 L603,997.6 L606.4,1000 L607.4,1005 L605,1008 L603,1014 L607,1019 L605.6,1026 L606.4,1034 L604,1040 L603,1047 L607,1053 L608,1057 L603,1062 L601,1070 L604,1078 L607.6,1085 L605,1089 L600,1093 L599.4,1097 L583,1110.4 L576,1109 L568,1105 L560,1100 L550,1095 L544,1089 L540,1080 L536,1071 L533.6,1064 L534.4,1057 L533,1052 L523,1047.6 L514,1052 L504,1059 L494,1068 L486,1075 L487,1076 L482,1072 L480,1064 L478,1050 L476,1041 L464,1045 L453,1049.6 L445,1049 L430,1047 L416,1044 L402,1040 L390,1037 L382,1042 L375,1045 L366,1040 L361,1034 L362,1024 L367,1016 L372,1008 L377,998 L376,992 L373,989 L368,989 L364,991 L362,996 L364,1001 L363,1006 L359,1010 L352,1010 L344,1008 L339,1004 L338,998 L340,992 L345.6,982 L346.4,975 L344,970 L340,969.6 L336.4,973 L336,980 L333,986 L328,989.6 L316,990 L312,992 L308,991 L307,985 L302,981 L298,982 L295,986 L291.6,983 L292,975 L287,970 L285,964 L282,957 L275,955.6 L272,956 L267,953 L264.4,948 L267,940 L268,940 L271,932 L270,924 L269.4,910 L269,896 L271.8,893 L272,888 L272,883.5 L274,882.5 L276,884 L277.5,888 L280,889 L284,891.5 L285.5,892 L286,887.5 L287,884 L289.5,883 L287.5,880 L285.5,876.5 L286.5,874.5 L290,872.5 L291,869 L287,866.5 L285.5,863 L284,858.5 L280,856.5 L276,856 L273,860 L269,864.5 L270,870 L269,874.5 L270,878.5 L267,876.5 L261.5,872 L257.5,873.5 L251.5,870.5 L252.5,866.88 L255,862.5 L252.5,860 L248.75,858.75 L246.25,860.62 L242.5,861.88 L239.38,860 L235.62,859.38 L231.25,863.12 L227.5,864.38 L226.25,861.25 L224.38,865 L221.88,865.62 L218.12,862.5 L213.75,858.12 L208.75,854.38 L205,851.25 L202.5,846.88 L206.25,843.12 L210.62,842.5 L212.5,838.12 L216.88,835 L220,841.25 L223.12,843.12 L227.5,844.38 L230,848.75 L227.5,851.25 L226.88,853.12 L230,853.75 L233.12,854.38 L235.62,850.62 L235,846.88 L235.62,845.62 L238.12,847.5 L241.88,850 L244.38,845.62 L248.75,845 L248.75,841.88 L254.38,841.25 L253.12,835.62 L250,835 L247.5,832.5 L248.75,827.5 L245,826.25 L243.75,821.88 L241.88,820.62 L247.5,815 L251.25,810.62 L255.62,805.62 L255,803.75 L253.12,795 L250.88,791.75 L249.75,790.1 L245.25,789.88 L240,788.75 L237,788 L234.75,785 L232.5,782.75 L230.25,784.48 L227.4,785 L226.88,782.9 L229.35,780.88 L228,779.15 L224.63,778.25 L222.9,779.75 L223.5,785 L219.75,785.38 L216.38,785.75 L216.75,790.25 L215.25,792.5 L217.5,800 L218.5,801 L210,800.62 L205.62,801.88 L200,796.25 L195.62,791.25 L198.12,789.38 L202.5,790.62 L201.88,793.12 L203.75,794.38 L206.88,793.75 L209.38,790 L210,783.12 L200.62,780 L201.25,776.25 L203.75,768.75 L207.5,762.25 L217.25,766.88 L218,764 L218.6,756 L219.4,748 L220,740 L215,739.4 L210.6,740 L207.4,741.6 L203.6,742.4 L201.4,744.6 L199.4,742 L197,737.6 L202,734.4 L203.6,732 L201,726 L195,719 L191,714 L188,712.4 L192.6,707 L197,700 L199.4,692 L200,686Z" fill="#f2f2f2"/>
<circle cx="209.2" cy="700" r="7.6" fill="#2db2db" fill-opacity="0.78"/>
<circle cx="246" cy="686.6" r="5.8" fill="#2db2db" fill-opacity="0.78"/>
<circle cx="237" cy="703" r="6.4" fill="#2db2db" fill-opacity="0.78"/>
<circle cx="225.4" cy="727" r="6.6" fill="#2db2db" fill-opacity="0.78"/>
<circle cx="226" cy="753.8" r="6.5" fill="#2db2db" fill-opacity="0.78"/>
<circle cx="250.1" cy="763" r="5.6" fill="#2db2db" fill-opacity="0.78"/>
<circle cx="209.6" cy="773.3" r="6.5" fill="#2db2db" fill-opacity="0.78"/>
<circle cx="223.8" cy="765.1" r="3.7" fill="#2db2db" fill-opacity="0.78"/>
<circle cx="222.8" cy="771.4" r="3.7" fill="#2db2db" fill-opacity="0.78"/>
<circle cx="234" cy="774.1" r="4.1" fill="#2db2db" fill-opacity="0.78"/>
<circle cx="244.1" cy="774.9" r="5.2" fill="#2db2db" fill-opacity="0.78"/>
<circle cx="235.8" cy="784.7" r="4.4" fill="#2db2db" fill-opacity="0.78"/>
<circle cx="214.9" cy="787.3" r="5.2" fill="#2db2db" fill-opacity="0.78"/>
<circle cx="256.25" cy="791.5" r="4.75" fill="#2db2db" fill-opacity="0.78"/>
<circle cx="266.6" cy="799.75" r="4.5" fill="#2db2db" fill-opacity="0.78"/>
<circle cx="259.4" cy="812.4" r="1.7" fill="#2db2db" fill-opacity="0.78"/>
<circle cx="244.5" cy="818.5" r="6" fill="#2db2db" fill-opacity="0.78"/>
<circle cx="265.4" cy="825.6" r="2.3" fill="#2db2db" fill-opacity="0.78"/>
<circle cx="255.1" cy="824.5" r="1" fill="#2db2db" fill-opacity="0.78"/>
<circle cx="281.25" cy="827.2" r="3.8" fill="#2db2db" fill-opacity="0.78"/>
<circle cx="250" cy="831.25" r="3.6" fill="#2db2db" fill-opacity="0.78"/>
<circle cx="255.6" cy="834.4" r="2.6" fill="#2db2db" fill-opacity="0.78"/>
<circle cx="259.6" cy="838" r="2.4" fill="#6b1410" fill-opacity="0.9"/>
<circle cx="270.6" cy="838.6" r="0.9" fill="#2db2db" fill-opacity="0.78"/>
<circle cx="282.25" cy="840.8" r="2.5" fill="#2db2db" fill-opacity="0.78"/>
<circle cx="297.1" cy="838.4" r="2.25" fill="#2db2db" fill-opacity="0.78"/>
<circle cx="317.8" cy="848" r="3.4" fill="#2db2db" fill-opacity="0.78"/>
<circle cx="266.25" cy="847.8" r="1.1" fill="#e0281c" fill-opacity="0.9"/>
<circle cx="262.75" cy="848.4" r="1.1" fill="#2db2db" fill-opacity="0.78"/>
<circle cx="257.6" cy="847" r="2.6" fill="#2db2db" fill-opacity="0.78"/>
<circle cx="250.6" cy="847.6" r="2.5" fill="#2db2db" fill-opacity="0.78"/>
<circle cx="285.9" cy="851.5" r="1.8" fill="#2db2db" fill-opacity="0.78"/>
<circle cx="303.4" cy="853" r="1.7" fill="#2db2db" fill-opacity="0.78"/>
<circle cx="217.25" cy="839.75" r="5.6" fill="#2db2db" fill-opacity="0.78"/>
<circle cx="225.6" cy="846.25" r="4.4" fill="#2db2db" fill-opacity="0.78"/>
<circle cx="220" cy="856" r="6.25" fill="#2db2db" fill-opacity="0.78"/>
<circle cx="230.25" cy="857.25" r="3.1" fill="#2db2db" fill-opacity="0.78"/>
<circle cx="238.1" cy="852.9" r="3.5" fill="#2db2db" fill-opacity="0.78"/>
<circle cx="243.75" cy="851.25" r="4.4" fill="#2db2db" fill-opacity="0.78"/>
<circle cx="243.1" cy="859.4" r="4.4" fill="#2db2db" fill-opacity="0.78"/>
<circle cx="251.25" cy="854.4" r="2.75" fill="#2db2db" fill-opacity="0.78"/>
<circle cx="252.1" cy="859.75" r="1.9" fill="#2db2db" fill-opacity="0.78"/>
<circle cx="259.4" cy="866.2" r="4.4" fill="#2db2db" fill-opacity="0.78"/>
<circle cx="266.2" cy="870.8" r="4" fill="#2db2db" fill-opacity="0.78"/>
<circle cx="264.1" cy="857.3" r="1.9" fill="#e0281c" fill-opacity="0.9"/>
<circle cx="317" cy="861.6" r="2.8" fill="#2db2db" fill-opacity="0.78"/>
<circle cx="329.6" cy="858.4" r="4.4" fill="#2db2db" fill-opacity="0.78"/>
<circle cx="333.4" cy="867" r="2.4" fill="#2db2db" fill-opacity="0.78"/>
<circle cx="292.4" cy="865" r="2.4" fill="#2db2db" fill-opacity="0.78"/>
<circle cx="303.4" cy="865.4" r="2" fill="#2db2db" fill-opacity="0.78"/>
<circle cx="355.4" cy="863.4" r="6" fill="#2db2db" fill-opacity="0.78"/>
<circle cx="351" cy="881.4" r="5.4" fill="#2db2db" fill-opacity="0.78"/>
<circle cx="311" cy="882" r="4.6" fill="#2db2db" fill-opacity="0.78"/>
<circle cx="398.5" cy="896.6" r="6.6" fill="#2db2db" fill-opacity="0.78"/>
<circle cx="372.8" cy="900.6" r="5.6" fill="#2db2db" fill-opacity="0.78"/>
<circle cx="341.4" cy="902" r="5.6" fill="#2db2db" fill-opacity="0.78"/>
<circle cx="314" cy="904.4" r="3.4" fill="#2db2db" fill-opacity="0.78"/>
<circle cx="291.8" cy="906.4" r="2.8" fill="#2db2db" fill-opacity="0.78"/>
<circle cx="281" cy="924.6" r="5.4" fill="#2db2db" fill-opacity="0.78"/>
<circle cx="338" cy="926" r="5.6" fill="#2db2db" fill-opacity="0.78"/>
<circle cx="312.6" cy="952.8" r="6.4" fill="#2db2db" fill-opacity="0.78"/>
<circle cx="369" cy="953.6" r="6.4" fill="#2db2db" fill-opacity="0.78"/>
<circle cx="323.4" cy="975" r="5.6" fill="#2db2db" fill-opacity="0.78"/>
<circle cx="411.6" cy="985" r="6" fill="#2db2db" fill-opacity="0.78"/>
<circle cx="455" cy="998" r="5" fill="#2db2db" fill-opacity="0.78"/>
<circle cx="533" cy="1009.6" r="5" fill="#2db2db" fill-opacity="0.78"/>
<path d="M201,680 L207,679 L210,679.6 L215,681 L220,683.6 L224,682.4 L229,680.6 L230,679 L235.4,678 L236.6,673 L237.4,668.4 L239,670.4 L245,670.4 L245.6,678.4 L251.6,680 L252.4,686 L253,692 L253.4,698 L249,698.6 L245,708 L242,714 L239,720 L240,726 L240.6,728 L245,726.6 L251,723.6 L252.2,726 L252.4,738 L251.6,746 L250,754 L249,757.6 L251,755.6 L254,752.4 L256.4,755 L258,760 L261,768 L264,776 L265.6,780 L267.5,780 L268.12,785 L271.25,791.25 L276.25,796.25 L279.38,800 L278.12,805 L276.88,808.12 L280,811.88 L282.5,815 L288.75,819.38 L297.5,823.12 L303.75,827.5 L310,832.5 L317.5,835.62 L323.12,836.25 L326.25,838.75 L330,842.5 L334,846 L344,850 L354,855 L366,858 L374,862 L386,867 L394,873 L400,880 L406,891 L411,896 L415,901 L419,903 L421,907 L426,909 L429,907 L432,909 L431,914 L436,916 L441,918 L443,921 L447,919 L451,920 L454,925 L457,930 L463,935 L469,941 L476,942.4 L483,942 L486,944 L491,947 L492,951 L498,950 L505,952 L511,951 L513,957 L517,961 L521,960 L523,963 L528,960 L533,962 L538,958 L544,959 L547,963 L548,968 L554,970 L560,969 L564,966 L567,968 L567.6,973 L564,977 L562,982 L564,986 L568,985 L571,980 L573,975 L577,974 L580,977 L584,974 L585,970 L588,971 L588,977 L586,981 L581,983 L579,987 L583,990 L588,993 L591,997 L588,1000 L584,1004 L581.6,1009 L582,1013 L585,1014 L589,1009 L594,1004 L599,999 L603,997.6 L606.4,1000 L607.4,1005 L605,1008 L603,1014 L607,1019 L605.6,1026 L606.4,1034 L604,1040 L603,1047 L607,1053 L608,1057 L603,1062 L601,1070 L604,1078 L607.6,1085 L605,1089 L600,1093 L599.4,1097 L583,1110.4 L576,1109 L568,1105 L560,1100 L550,1095 L544,1089 L540,1080 L536,1071 L533.6,1064 L534.4,1057 L533,1052 L523,1047.6 L514,1052 L504,1059 L494,1068 L486,1075 L487,1076 L482,1072 L480,1064 L478,1050 L476,1041 L464,1045 L453,1049.6 L445,1049 L430,1047 L416,1044 L402,1040 L390,1037 L382,1042 L375,1045 L366,1040 L361,1034 L362,1024 L367,1016 L372,1008 L377,998 L376,992 L373,989 L368,989 L364,991 L362,996 L364,1001 L363,1006 L359,1010 L352,1010 L344,1008 L339,1004 L338,998 L340,992 L345.6,982 L346.4,975 L344,970 L340,969.6 L336.4,973 L336,980 L333,986 L328,989.6 L316,990 L312,992 L308,991 L307,985 L302,981 L298,982 L295,986 L291.6,983 L292,975 L287,970 L285,964 L282,957 L275,955.6 L272,956 L267,953 L264.4,948 L267,940 L268,940 L271,932 L270,924 L269.4,910 L269,896 L271.8,893 L272,888 L272,883.5 L274,882.5 L276,884 L277.5,888 L280,889 L284,891.5 L285.5,892 L286,887.5 L287,884 L289.5,883 L287.5,880 L285.5,876.5 L286.5,874.5 L290,872.5 L291,869 L287,866.5 L285.5,863 L284,858.5 L280,856.5 L276,856 L273,860 L269,864.5 L270,870 L269,874.5 L270,878.5 L267,876.5 L261.5,872 L257.5,873.5 L251.5,870.5 L252.5,866.88 L255,862.5 L252.5,860 L248.75,858.75 L246.25,860.62 L242.5,861.88 L239.38,860 L235.62,859.38 L231.25,863.12 L227.5,864.38 L226.25,861.25 L224.38,865 L221.88,865.62 L218.12,862.5 L213.75,858.12 L208.75,854.38 L205,851.25 L202.5,846.88 L206.25,843.12 L210.62,842.5 L212.5,838.12 L216.88,835 L220,841.25 L223.12,843.12 L227.5,844.38 L230,848.75 L227.5,851.25 L226.88,853.12 L230,853.75 L233.12,854.38 L235.62,850.62 L235,846.88 L235.62,845.62 L238.12,847.5 L241.88,850 L244.38,845.62 L248.75,845 L248.75,841.88 L254.38,841.25 L253.12,835.62 L250,835 L247.5,832.5 L248.75,827.5 L245,826.25 L243.75,821.88 L241.88,820.62 L247.5,815 L251.25,810.62 L255.62,805.62 L255,803.75 L253.12,795 L250.88,791.75 L249.75,790.1 L245.25,789.88 L240,788.75 L237,788 L234.75,785 L232.5,782.75 L230.25,784.48 L227.4,785 L226.88,782.9 L229.35,780.88 L228,779.15 L224.63,778.25 L222.9,779.75 L223.5,785 L219.75,785.38 L216.38,785.75 L216.75,790.25 L215.25,792.5 L217.5,800 L218.5,801 L210,800.62 L205.62,801.88 L200,796.25 L195.62,791.25 L198.12,789.38 L202.5,790.62 L201.88,793.12 L203.75,794.38 L206.88,793.75 L209.38,790 L210,783.12 L200.62,780 L201.25,776.25 L203.75,768.75 L207.5,762.25 L217.25,766.88 L218,764 L218.6,756 L219.4,748 L220,740 L215,739.4 L210.6,740 L207.4,741.6 L203.6,742.4 L201.4,744.6 L199.4,742 L197,737.6 L202,734.4 L203.6,732 L201,726 L195,719 L191,714 L188,712.4 L192.6,707 L197,700 L199.4,692 L200,686Z" fill="none" stroke="#333" stroke-width="0.7" stroke-linejoin="round"/>
<path d="M192.6,707 L198,712 L203,716.6 L208,721 L213,719.4 L217.4,716.6 L221,711 L223,705.6 L222.4,700 L222.4,697 L224,693 M220,683.6 L221.6,688 L224,693 L230,694 L236,694.6 L242,694.4 L249,693.6 L253.4,692.4 M224,693 L226,699 L229,707 L232,714 L233.6,720 L239,720 M224.4,741 L226,747 L228,752 L230,754 L232,754 L234,753 L238,750.4 L241,752 L244,755.6 L249,758 M221.6,739.4 L224.4,741 L222.4,748 L221,756 L220,764 L219,769 M221.63,760.25 L229.5,766.25 L237,774.5 L240,780.5 L245.25,788 L249.75,789.88 M221.63,760.25 L221.25,764.75 L220.88,767.38 L217.5,767 M220.88,767.38 L228,768.5 L229.5,766.25 M228,768.5 L225.75,773 L222.75,776.75 L219.75,773 L219,771.13 L217.5,770.75 M222.75,776.75 L222.9,779.75 M238.5,771.13 L250.5,773 L250.5,779.75 L249.75,789.88 M238.5,771.13 L240,780.5 M232.5,782.75 L234.75,779.75 L237,774.5 M200.63,779.75 L210.75,782.75 L215.25,780.5 L217.13,773.75 M215.25,780.5 L216.38,785.75 M217.5,767 L207.75,762.28 M250,780 L251.25,787.5 L253.12,795 M267.5,786.25 L263.75,792.5 L260,798.75 L256.88,803.75 L255.62,805.62 M255.62,805.62 L261.25,806.88 L267.5,808.12 L267.5,812.5 L271.25,817.5 L273.75,820.62 M276.88,808.12 L274.38,812.5 L273.12,817.5 L273.75,822.5 L274.38,830 L276.25,832.5 L278.75,835 L285,835 M258.12,820 L273.12,820.62 L273.75,830 L273.12,832.5 L267.5,833.12 L262.5,832.5 L258.12,832.5 L258.12,820 M247.5,815 L252.5,817.5 L258.12,820 M287.5,828.12 L301.25,835 L302.5,842.5 L296.25,848.12 L290,845 L285,835 L287.5,828.12 M302.5,845 L311.25,841.25 L323.12,836.25 M248.75,827.5 L252.5,828.12 L258.12,828.75 M253.12,835.62 L258.12,835 L258.12,832.5 M262.5,832.5 L261.88,838.75 L261.25,845 L260,850 L259.38,855 M267.5,833.12 L266.25,838.75 L264.38,845 L263.12,850 M273.12,832.5 L271.88,838.75 L268.75,842.5 L266.25,847.5 L265,852.5 M254.38,841.25 L258.12,841.88 L261.25,845 M276.25,832.5 L275.62,838.75 L278.12,845 L276.88,850 L277.5,855 M278.12,845 L285,846.25 L290,845 M296.25,848.12 L297.5,855 M302.5,842.5 L305,850 L307.5,855 M271.88,838.75 L275.62,838.75 M286,885 L296,888 L308,893 L318,898 L326,904 L334,910 L344,915 L350,916 L354,913 L359,909 L362,907 M326,872 L325,880 L323,888 L320,896 L319,898 M287,878 L288,880 L300,881 L304,874 L316,872 L326,872 L338,874 L346,880 L344,888 L350,892 L355,895 L357,898 L362,907 M358,897 L363,908 L370,910 L371,916 L378,918 L380,922 L389,924 L390,928 L398,929 L399,934 L406,932 M357,898 L362,890 L361,879 L362,874 M361,878 L380,880 L382,885 L399,882.4 M360,889.6 L379,889 L384,895 L390,900 L397,907 L398,917 L417,909 L418,904 M334,910 L332,916 L314,915 L312,922 L313,928 L311,934 L314,940 L324,942 L326,938 L330,938 L326,944 L336,950 L340,953 M353,940 L352,930 L354,917 L350,916 M279,892 L280,900 L286,908 L290,920 L296,918 L299,914 L303,915 L304,911 L299,904 L293,898 L285,893 L279,892 M304,916 L305,924 L298,928 L293,926 L291,920 M293,926 L292,932 L286,936 L280,938 L280,940 M312,922 L304,918 M286,936 L290,940 L302,941 L303,940 M278,848 L280,856 L292,857 L293,849 L290,846 L280,846 L278,848 M293,849 L300,848 L308,846 L310,840 M308,846 L310,856 L311,860 L300,862 L298,856 L296,849 M310,856 L322,854 L326,850 L328,840 M311,860 L312,868 L316,872 M322,854 L330,855 L338,860 L344,859 L348,862 L346,868 L346,880 M300,862 L298,870 L304,874 M280,856 L285,860 L286,868 L288,874 M285,860 L298,861 M325,855 L330,853 L335,859 L330,863 L325,855 M275,955.6 L275.6,946 L280,940 M303,940 L304,948 L303,958 L309,964 L316,961 L328,959 L338,956 L340,953 L346,953 L352,952 L353,940 M346,953 L344,962 L344,970 M390,970 L394,976 L397,980 L394,988 L390,990 L386,987 L382,984 L378,980 L375,979 L375,983 L373,989 M419,903 L414,916 L406,934 L398,952 L390,970 M443,921 L448,926 L449,929 L444,936 L443,946 L437,949 L429,953 L430,959 L427,968 L427,972 L435,971 L436,976 L434,980 M505,952 L501,966 M434,980 L433,982 L431,994 L431,1006 L428,1016 L426,1022 L418,1024 L416.4,1028 L420,1025 L425,1027 L430,1030 L436,1030 L441,1035 L444,1040 L445,1049 M500.4,965.6 L484,961 L478,965 L470,971 L470,978 L475,981 L479,989 L482,1000 L483,1010 L487,1018 L491,1023 L490,1026 L485,1026 L484,1030 L480,1036 L476,1041 M211.5,838.5 L216.5,835 L221.5,842 L217.5,845.5 L213,843 L211.5,838.5 M221.5,842 L227,844 L230,846.5 L227.5,851 L223.5,849.5 L219.5,847 L221.5,842 M207.5,842.5 L213,843 M217.5,845.5 L219.5,847 M227.5,851 L227,852 L225.5,857 L224.5,863 M235.5,845.5 L247,855 L246,856.5 L235,847.5 L235.5,845.5 M236.5,851.5 L239.5,850 L242,855 L238.5,856.5 L236.5,851.5 M239.5,850 L242,849 L247,854 L245.5,856.5 L242,855 M242,855 L245.5,856.5 L248,858 L246,860 L242,859 L240,857 L242,855 M241.5,819.5 L246,816.5 L250,818 L251,823 L248,826 L244.5,824.5 L244,821 L241.5,819.5 M246.5,830 L251,828 L253.5,831 L252.5,835 L247,834.5 L246.5,830 M252.5,835 L256,833 L258.5,836 L257.5,839 L253,839.5 M262,869.5 L266,866.5 L270,870.5 L267,875 L262,869.5 M256,853 L261,855 L260,859 L256,862 L254,865 L251.5,869.5 M260,859 L265,862 L270,867 M252.5,840 L256,841 L256.5,849 L256,853 L252,854 M264,857.5 L265,862" fill="none" stroke="#3a3a3a" stroke-width="0.6" stroke-linejoin="round"/>
<path d="M292.8,1095.4 L295.5,1094.65 L296.4,1098.25 L298.05,1102.45 L300.45,1104.7 L304.8,1107.4 L309.3,1110.4 L313.8,1112.05 L317.4,1114.3 L318.3,1119.4 L315.9,1120.45 L314.4,1118.2 L312.6,1118.8 L310.8,1117 L308.7,1117.6 L307.2,1115.5 L305.1,1116.4 L303.6,1113.7 L301.2,1114 L300,1111.6 L297.9,1111 L297.3,1108.3 L295.2,1105.3 L294.45,1100.5Z" fill="#858585"/>
<path d="M279.85,1097.85 A24.3,24.3 0 1 1 284,1123.3" fill="none" stroke="#333" stroke-width="1"/>
<circle cx="296.7" cy="1106.8" r="2.3" fill="#000"/>
<text class="i" x="183.5" y="1118.8" font-size="23.5" fill="#000" textLength="106" lengthAdjust="spacingAndGlyphs">Richmond</text>
<!--ENDMAP--></g>
</svg>
</body></html>
